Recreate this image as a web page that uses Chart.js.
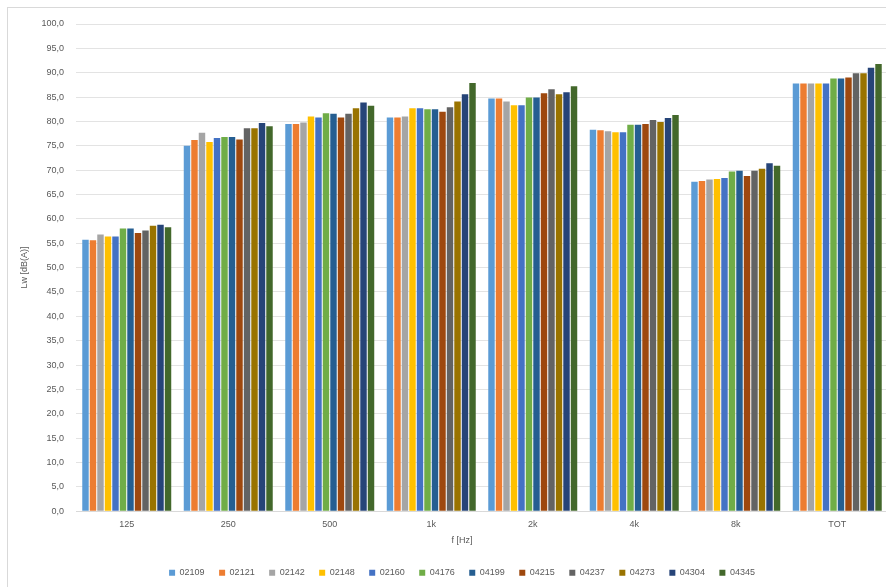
<!DOCTYPE html>
<html>
<head>
<meta charset="utf-8">
<script src="https://cdn.jsdelivr.net/npm/chart.js@4"></script>
<style>
  html, body { margin: 0; padding: 0; background: #fff; overflow: hidden; }
  #frame { position: absolute; left: 7px; top: 7px; width: 1000px; height: 700px;
           border-left: 1px solid #d9d9d9; border-top: 1px solid #d9d9d9; }
  #wrap { position: absolute; left: 0; top: 0; width: 914px; height: 600px; }
</style>
</head>
<body>
<div id="frame"></div>
<div id="wrap"><canvas id="chart" width="914" height="600"></canvas></div>
<script>
const categories = ["125", "250", "500", "1k", "2k", "4k", "8k", "TOT"];
const seriesNames = ["02109", "02121", "02142", "02148", "02160", "04176",
                     "04199", "04215", "04237", "04273", "04304", "04345"];

// Lw per band, one array per unit
const s02109 = [55.7, 75.0, 79.5, 80.8, 84.7, 78.3, 67.6, 87.8];
const s02121 = [55.6, 76.2, 79.5, 80.8, 84.7, 78.2, 67.8, 87.8];
const s02142 = [56.8, 77.7, 79.8, 81.0, 84.1, 78.0, 68.1, 87.8];
const s02148 = [56.4, 75.8, 81.0, 82.7, 83.3, 77.8, 68.2, 87.8];
const s02160 = [56.4, 76.6, 80.8, 82.7, 83.3, 77.8, 68.4, 87.8];
const s04176 = [58.0, 76.8, 81.7, 82.5, 84.9, 79.3, 69.7, 88.8];
const s04199 = [58.0, 76.8, 81.6, 82.5, 84.9, 79.3, 69.9, 88.8];
const s04215 = [57.1, 76.3, 80.8, 82.0, 85.8, 79.5, 68.8, 89.0];
const s04237 = [57.6, 78.6, 81.6, 82.9, 86.6, 80.3, 69.9, 89.9];
const s04273 = [58.6, 78.6, 82.7, 84.1, 85.6, 79.9, 70.3, 89.9];
const s04304 = [58.8, 79.7, 83.9, 85.6, 86.0, 80.7, 71.4, 91.0];
const s04345 = [58.3, 79.0, 83.2, 87.9, 87.2, 81.3, 70.9, 91.8];

const seriesValues = [s02109, s02121, s02142, s02148, s02160, s04176,
                      s04199, s04215, s04237, s04273, s04304, s04345];

const colors = ["#5b9bd5", "#ed7d31", "#a5a5a5", "#ffc000", "#4472c4", "#70ad47",
                "#255e91", "#9e480e", "#636363", "#997300", "#264478", "#43682b"];

const textColor = "#595959";
const font = { family: "Liberation Sans", size: 9 };

new Chart(document.getElementById("chart").getContext("2d"), {
  type: "bar",
  data: {
    labels: categories,
    datasets: seriesNames.map((name, i) => ({
      label: name,
      data: seriesValues[i],
      backgroundColor: colors[i],
      borderWidth: 0,
      categoryPercentage: 0.887,
      barPercentage: 0.86,
    })),
  },
  options: {
    responsive: false,
    animation: false,
    layout: { padding: { left: 10, top: 24, right: 0, bottom: 12.8 } },
    plugins: {
      tooltip: { enabled: false },
      title: {
        display: true,
        text: "f [Hz]",
        position: "bottom",
        weight: 500,
        color: textColor,
        font: { ...font, weight: "normal" },
        padding: { top: 2, bottom: 7.7 },
      },
      legend: {
        position: "bottom",
        labels: {
          color: textColor,
          font: font,
          boxWidth: 6,
          boxHeight: 6,
          padding: 14.5,
        },
      },
    },
    scales: {
      x: {
        grid: { display: false, drawTicks: false },
        border: { color: "#d9d9d9" },
        ticks: { color: textColor, font: font, padding: 8 },
        afterFit: (s) => { s.height = 22; },
      },
      y: {
        min: 0,
        max: 100,
        ticks: {
          stepSize: 5,
          color: textColor,
          font: font,
          padding: 12,
          callback: (v) => v.toFixed(1).replace(".", ","),
        },
        grid: { color: "#e3e3e3", drawTicks: false },
        border: { display: false },
        title: {
          display: true,
          text: "Lw [dB(A)]",
          color: textColor,
          font: font,
          padding: { top: 9, bottom: 0 },
        },
        afterFit: (s) => { s.width = 66; },
      },
      // empty right box so the plot runs off the right edge like the picture
      yRight: {
        position: "right",
        grid: { display: false },
        border: { display: false },
        ticks: { display: false },
        afterFit: (s) => { s.width = 26; },
      },
    },
  },
});
</script>
</body>
</html>
